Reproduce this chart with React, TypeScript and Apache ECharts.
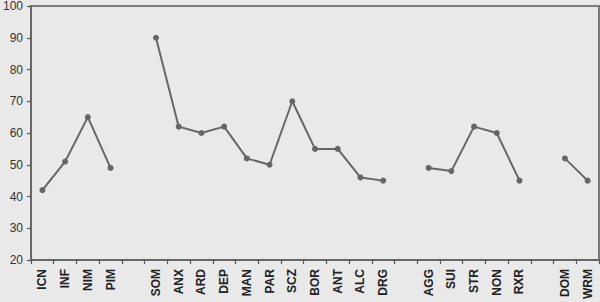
import React, { useEffect, useRef } from "react";
import * as echarts from "echarts";

const categories = [
  "ICN", "INF", "NIM", "PIM", "",
  "SOM", "ANX", "ARD", "DEP", "MAN", "PAR", "SCZ", "BOR", "ANT", "ALC", "DRG", "",
  "AGG", "SUI", "STR", "NON", "RXR", "",
  "DOM", "WRM",
];

const values: (number | null)[] = [
  42, 51, 65, 49, null,
  90, 62, 60, 62, 52, 50, 70, 55, 55, 46, 45, null,
  49, 48, 62, 60, 45, null,
  52, 45,
];

const yTicks = { min: 20, max: 100, interval: 10 };

export default function App() {
  const ref = useRef<HTMLDivElement>(null);
  useEffect(() => {
    if (!ref.current) return;
    const chart = echarts.init(ref.current, null, { renderer: "svg" });
    chart.setOption({
      animation: false,
      backgroundColor: "#e9e9e9",
      grid: {
        left: 30,
        right: 1,
        top: 5,
        bottom: 41,
        show: true,
        borderColor: "#7a7a7a",
        borderWidth: 2,
        backgroundColor: "#e9e9e9",
      },
      xAxis: {
        type: "category",
        data: categories,
        boundaryGap: true,
        axisLine: { lineStyle: { color: "#666", width: 2 } },
        axisTick: { show: true, length: 4, alignWithLabel: false, lineStyle: { color: "#555", width: 1.2 } },
        axisLabel: {
          interval: 0,
          rotate: 90,
          margin: 9,
          fontFamily: "Liberation Sans, Arial, sans-serif",
          fontWeight: "bold",
          fontSize: 12,
          color: "#222",
        },
        splitLine: { show: false },
      },
      yAxis: {
        type: "value",
        min: yTicks.min,
        max: yTicks.max,
        interval: yTicks.interval,
        axisLine: { show: true, lineStyle: { color: "#666", width: 2 } },
        axisTick: { show: true, length: 4, lineStyle: { color: "#555", width: 1.2 } },
        axisLabel: {
          margin: 8,
          fontFamily: "Liberation Sans, Arial, sans-serif",
          fontSize: 12,
          color: "#333",
        },
        splitLine: { show: false },
      },
      series: [
        {
          type: "line",
          data: values,
          connectNulls: false,
          symbol: "circle",
          symbolSize: 6,
          itemStyle: { color: "#666" },
          lineStyle: { color: "#666", width: 2 },
        },
      ],
    });
    return () => chart.dispose();
  }, []);
  return (
    <div style={{ position: "fixed", left: 0, top: 0, width: 600, height: 302 }}>
      <div ref={ref} style={{ width: 600, height: 302 }} />
    </div>
  );
}
